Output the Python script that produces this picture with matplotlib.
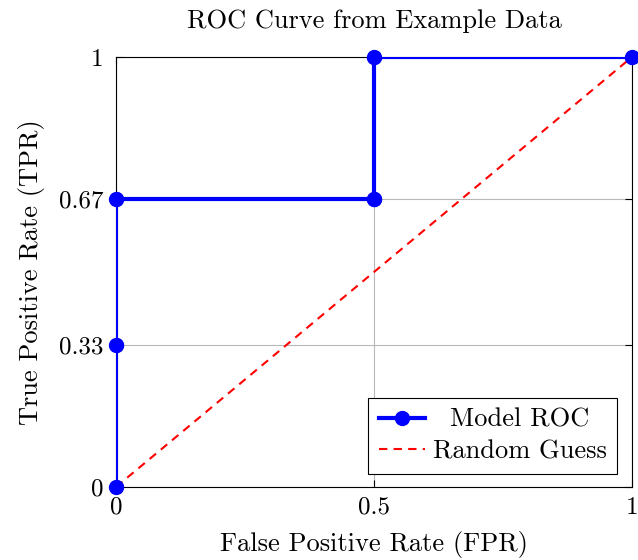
import numpy as np
import matplotlib
matplotlib.use("Agg")
import matplotlib.pyplot as plt

plt.rcParams['font.family'] = ['cmr10', 'DejaVu Serif']
plt.rcParams['axes.formatter.use_mathtext'] = True

# ROC points
fpr = [0, 0, 0, 0.5, 0.5, 1]
tpr = [0, 0.33, 0.67, 0.67, 1, 1]
diag = [0, 1]
xticks = [0, 0.5, 1]
xticklabels = ['0', '0.5', '1']
yticks = [0, 0.33, 0.67, 1]
yticklabels = ['0', '0.33', '0.67', '1']

fig = plt.figure(figsize=(6.38, 5.6), dpi=100)
ax = fig.add_axes([116/638, 1-487/560, (632-116)/638, (487-57)/560])

ax.plot(fpr, tpr, color='blue', lw=3, marker='o', markersize=10,
        label='Model ROC', zorder=3)
ax.plot(diag, diag, color='red', lw=1.5, ls=(0, (4, 3)), label='Random Guess', zorder=2)

# markers on top, not clipped at the axes edge
ax.plot(fpr, tpr, ls='none', color='blue', marker='o', markersize=10,
        clip_on=False, zorder=4)

ax.set_xlim(0, 1)
ax.set_ylim(0, 1)
ax.set_xticks(xticks)
ax.set_xticklabels(xticklabels)
ax.set_yticks(yticks)
ax.set_yticklabels(yticklabels)
ax.tick_params(direction='in', top=True, right=True, labelsize=18, length=5)
ax.tick_params(axis='x', pad=7)
ax.tick_params(axis='y', pad=9)
ax.grid(True, color='#b8b8b8', lw=0.8)
for s in ax.spines.values():
    s.set_linewidth(0.8)

ax.set_title('ROC Curve from Example Data', fontsize=19, pad=21)
ax.set_xlabel('False Positive Rate (FPR)', fontsize=19, labelpad=9)
ax.set_ylabel('True Positive Rate (TPR)', fontsize=19, labelpad=10)

leg = ax.legend(loc='lower right', bbox_to_anchor=(0.971, 0.03), borderaxespad=0,
                fontsize=19, fancybox=False, edgecolor='black', framealpha=1,
                handlelength=1.74, handletextpad=0.3, borderpad=0.4,
                labelspacing=0.3)
leg.get_frame().set_linewidth(0.8)

# centre the legend entries in their column like the reference
fig.canvas.draw()
r = fig.canvas.get_renderer()
texts = leg.get_texts()
widths = [t.get_window_extent(r).width for t in texts]
for t, w in zip(texts, widths):
    t.set_x((max(widths) - w) / 2)

fig.savefig('out.png', dpi=100)
